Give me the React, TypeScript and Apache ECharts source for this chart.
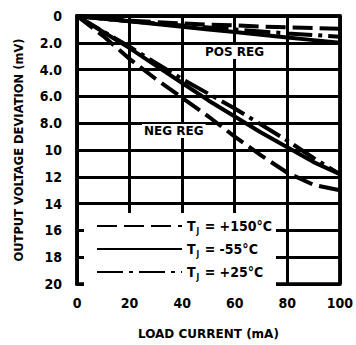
import React, { useEffect, useRef } from 'react';
import * as echarts from 'echarts';

const loadCurrent = [0, 10, 20, 30, 40, 50, 60, 70, 80, 90, 100];
// NEG REG curves (mV)
const negPlus150 = [0, 1.5, 3.2, 4.7, 6.1, 7.5, 9.0, 10.4, 11.7, 12.6, 13.0];
const negMinus55 = [0, 1.2, 2.4, 3.7, 5.0, 6.3, 7.5, 8.7, 9.8, 10.9, 11.8];
const negPlus25 = [0, 1.15, 2.3, 3.5, 4.7, 5.8, 6.9, 8.1, 9.3, 10.6, 11.8];
// POS REG curves (mV)
const posPlus150 = [0, 0.2, 0.35, 0.45, 0.55, 0.65, 0.7, 0.8, 0.85, 0.9, 0.95];
const posMinus55 = [0, 0.2, 0.4, 0.6, 0.8, 1.0, 1.2, 1.4, 1.6, 1.8, 2.0];
const posPlus25 = [0, 0.2, 0.4, 0.55, 0.7, 0.85, 1.0, 1.15, 1.3, 1.42, 1.55];

const yTickLabels = ['0', '2.0', '4.0', '6.0', '8.0', '10', '12', '14', '16', '18', '20'];
const legendNames = ['TJ = +150°C', 'TJ = -55°C', 'TJ = +25°C'];

const NARROW = '"Liberation Sans Narrow", "DejaVu Sans Condensed", "Arial Narrow", sans-serif';
const WIDE = '"DejaVu Sans", "Liberation Sans", sans-serif';

const DASHED = [20, 7];
const DASHDOT = [26, 6, 4, 6];

function mk(name: string, vals: number[], type: any) {
  return {
    type: 'line',
    name,
    data: loadCurrent.map((x, i) => [x, vals[i]]),
    symbol: 'none',
    showSymbol: false,
    lineStyle: { color: '#000', width: 4, type, cap: 'butt' },
    itemStyle: { color: '#000' },
    z: 3,
  };
}

export default function App() {
  const ref = useRef<HTMLDivElement>(null);
  useEffect(() => {
    const chart = echarts.init(ref.current!, null, { renderer: 'svg' });
    chart.setOption({
      animation: false,
      backgroundColor: '#fff',
      grid: {
        left: 77, right: 10, top: 16, bottom: 53,
        show: true, borderColor: '#000', borderWidth: 3.5,
      },
      xAxis: {
        type: 'value', min: 0, max: 100, interval: 20,
        name: 'LOAD CURRENT (mA)', nameLocation: 'middle', nameGap: 44,
        nameTextStyle: { fontFamily: WIDE, fontWeight: 'bold', fontSize: 12, color: '#000' },
        axisLine: { show: true, lineStyle: { color: '#000', width: 3.5 } },
        axisTick: { show: false },
        axisLabel: { margin: 12, fontFamily: NARROW, fontWeight: 'bold', fontSize: 14, color: '#000' },
        splitLine: { show: true, lineStyle: { color: '#000', width: 3 } },
      },
      yAxis: {
        type: 'value', min: 0, max: 20, interval: 2, inverse: true,
        name: 'OUTPUT VOLTAGE DEVIATION (mV)', nameLocation: 'middle', nameGap: 52, nameRotate: 90,
        nameTextStyle: { fontFamily: WIDE, fontWeight: 'bold', fontSize: 11.5, color: '#000' },
        axisLine: { show: true, lineStyle: { color: '#000', width: 3.5 } },
        axisTick: { show: false },
        axisLabel: {
          margin: 15, fontFamily: NARROW, fontWeight: 'bold', fontSize: 14, color: '#000',
          formatter: (v: number) => yTickLabels[Math.round(v / 2)],
        },
        splitLine: { show: true, lineStyle: { color: '#000', width: 3 } },
      },
      legend: {
        orient: 'vertical', left: 84, top: 213,
        backgroundColor: '#fff', padding: [6, 4, 7, 12],
        itemWidth: 85, itemHeight: 14, itemGap: 7,
        data: legendNames,
        itemStyle: { opacity: 0 },
        selectedMode: false,
        formatter: (name: string) => `{t|T}{s|J}{t|${name.slice(2)}}`,
        textStyle: {
          color: '#000',
          rich: {
            t: { fontFamily: NARROW, fontWeight: 'bold', fontSize: 14, color: '#000', lineHeight: 18 },
            s: { fontFamily: NARROW, fontWeight: 'bold', fontSize: 8, color: '#000', lineHeight: 6, verticalAlign: 'bottom', padding: [0, 1, 0, 1] },
          },
        },
      },
      graphic: [
        {
          type: 'text', left: 203, top: 45, z: 100,
          style: { text: 'POS REG', font: `bold 12px ${WIDE}`, fill: '#000', backgroundColor: '#fff', padding: [1, 2, 1, 2] },
        },
        {
          type: 'text', left: 142, top: 124, z: 100,
          style: { text: 'NEG REG', font: `bold 12px ${WIDE}`, fill: '#000', backgroundColor: '#fff', padding: [1, 2, 1, 2] },
        },
      ],
      series: [
        mk(legendNames[0], negPlus150, DASHED),
        mk(legendNames[1], negMinus55, 'solid'),
        mk(legendNames[2], negPlus25, DASHDOT),
        mk(legendNames[0], posPlus150, DASHED),
        mk(legendNames[1], posMinus55, 'solid'),
        mk(legendNames[2], posPlus25, DASHDOT),
      ],
    });
    return () => chart.dispose();
  }, []);
  return (
    <div
      ref={ref}
      style={{ position: 'fixed', left: 0, top: 0, width: 356, height: 345, background: '#fff' }}
    />
  );
}
